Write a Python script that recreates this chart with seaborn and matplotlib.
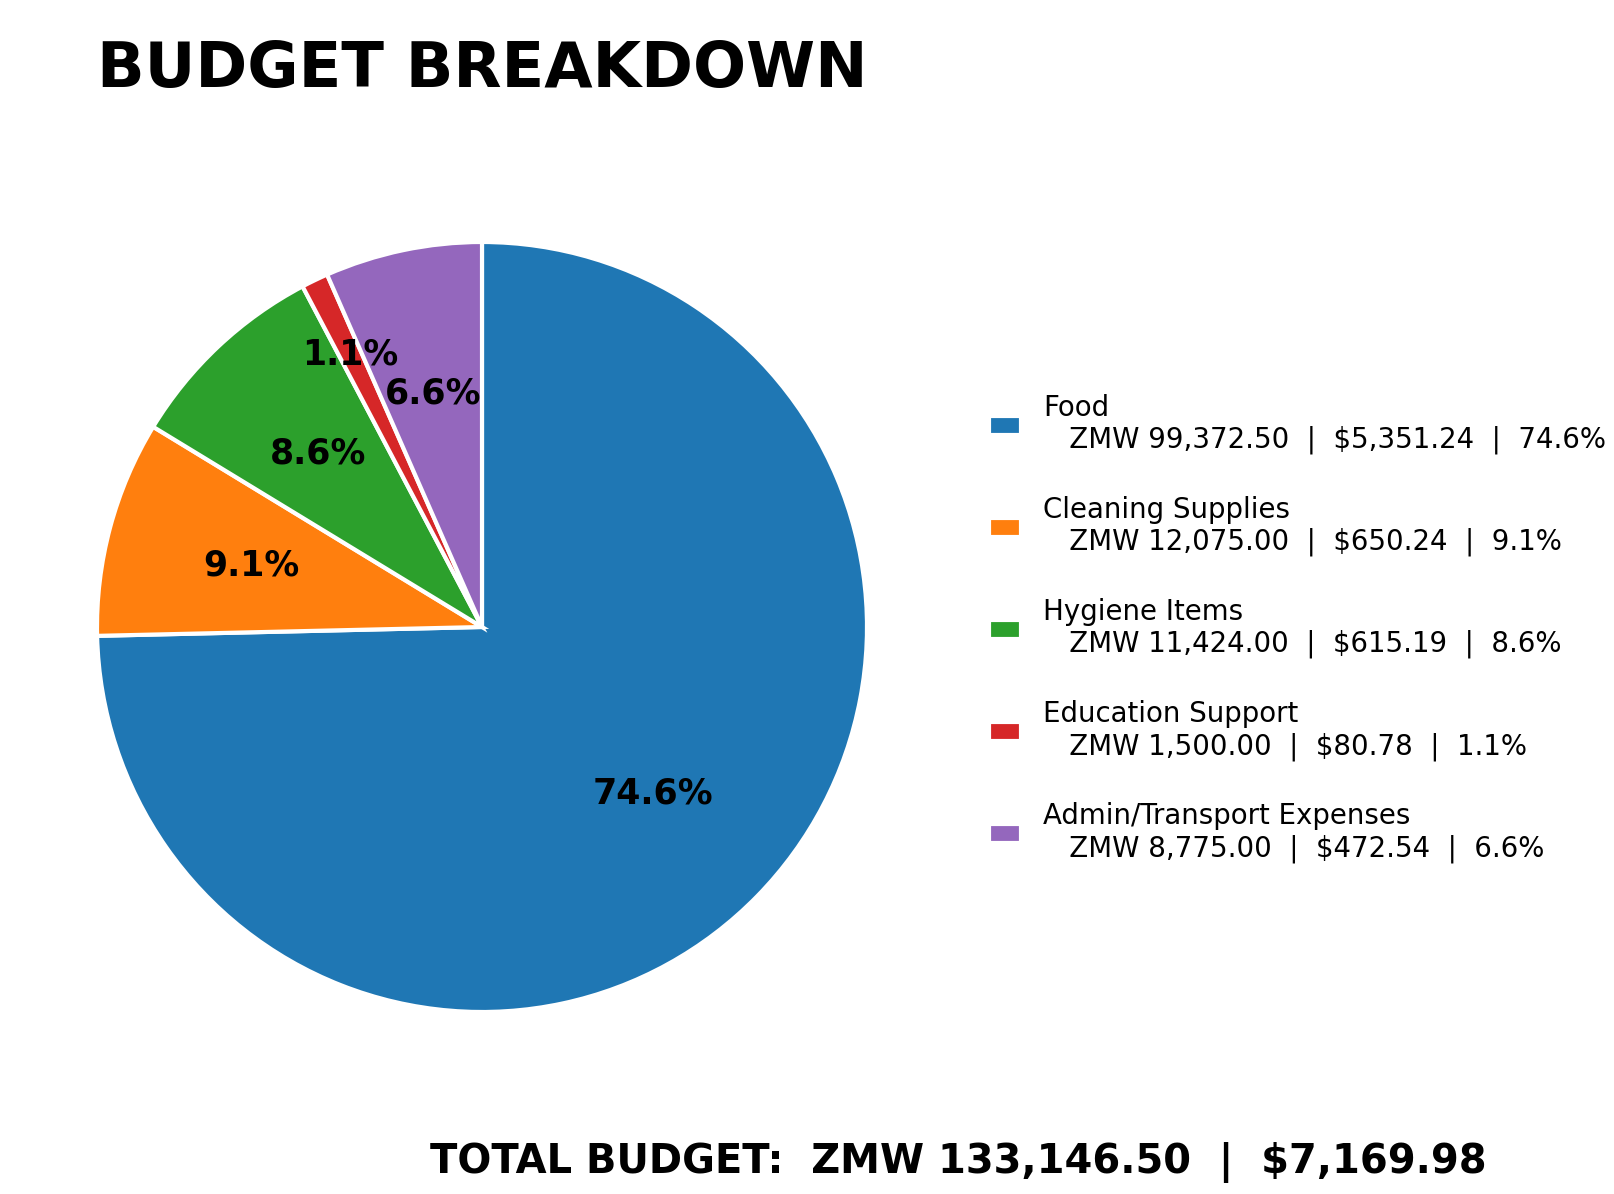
import matplotlib
matplotlib.use("Agg")
import math
import matplotlib.pyplot as plt
import seaborn as sns

categories = ["Food", "Cleaning Supplies", "Hygiene Items", "Education Support",
              "Admin/Transport Expenses"]
zmw_values = [99372.50, 12075.00, 11424.00, 1500.00, 8775.00]
usd_values = [5351.24, 650.24, 615.19, 80.78, 472.54]
total_zmw = 133146.50
total_usd = 7169.98

sns.set_theme(style="white")
plt.rcParams["font.family"] = ["DejaVu Sans"]
plt.rcParams["text.color"] = "black"
colors = sns.color_palette("tab10", len(categories))

W, H, DPI = 1614, 1194, 150
fig = plt.figure(figsize=(W / DPI, H / DPI), dpi=DPI)
fig.patch.set_facecolor("white")

L = 1.05
r_px = 385
side = 2 * r_px * L
cx, cy = 482, H - 627
ax = fig.add_axes([(cx - side / 2) / W, (cy - side / 2) / H, side / W, side / H])

total = sum(zmw_values)
pcts = [v / total * 100 for v in zmw_values]
pct_dist = [0.62, 0.62, 0.62, 0.785, 0.62]

wedges, texts, autotexts = ax.pie(
    zmw_values,
    colors=colors,
    startangle=90,
    counterclock=False,
    autopct="%1.1f%%",
    pctdistance=0.62,
    wedgeprops=dict(edgecolor="white", linewidth=2),
    textprops=dict(fontsize=16.7, fontweight="bold", color="black"),
)
for w, t, d in zip(wedges, autotexts, pct_dist):
    ang = math.radians((w.theta1 + w.theta2) / 2)
    t.set_position((d * math.cos(ang), d * math.sin(ang)))

ax.set_xlim(-L, L)
ax.set_ylim(-L, L)
ax.set_aspect("equal")
ax.axis("off")

labels = [
    f"{c}\n   ZMW {z:,.2f}  |  ${u:,.2f}  |  {p:.1f}%"
    for c, z, u, p in zip(categories, zmw_values, usd_values, pcts)
]
leg = fig.legend(
    wedges, labels,
    loc="center left",
    bbox_to_anchor=(0.6058, 0.474),
    bbox_transform=fig.transFigure,
    frameon=False,
    fontsize=13.25,
    handlelength=1.18,
    handleheight=0.7,
    labelspacing=1.49,
    borderaxespad=0,
)

fig.text(97 / W, 1 - 87 / H, "BUDGET BREAKDOWN", fontsize=30, fontweight="bold",
         ha="left", va="baseline")
fig.text(430 / W, 1 - 1173 / H,
         f"TOTAL BUDGET:  ZMW {total_zmw:,.2f}  |  ${total_usd:,.2f}",
         fontsize=19.2, fontweight="bold", ha="left", va="baseline")

fig.savefig("out.png", dpi=DPI)
